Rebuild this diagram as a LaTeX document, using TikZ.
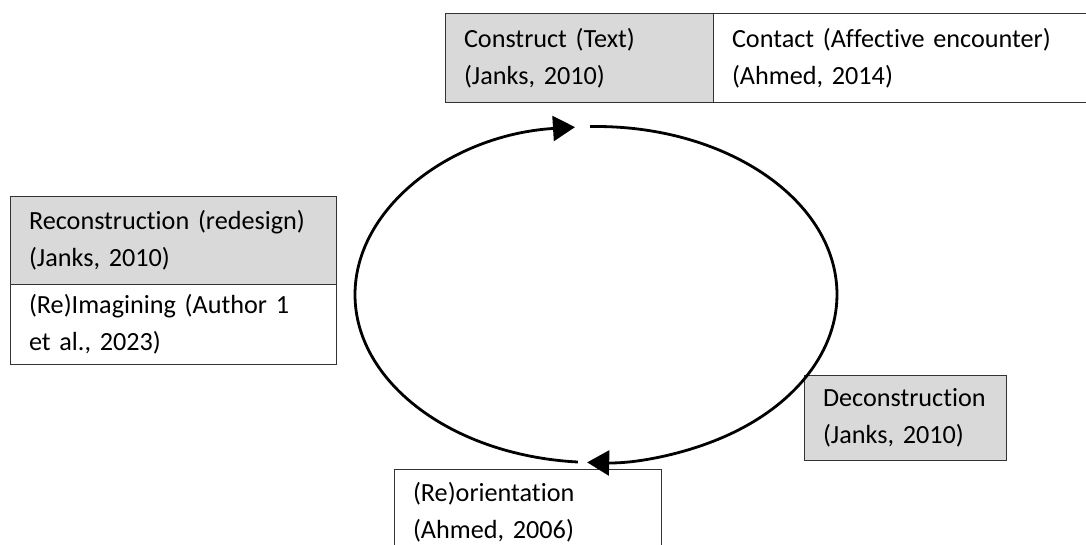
\documentclass[tikz,border=0pt]{standalone}
\usepackage{fontspec}
\setmainfont{Carlito}[Ligatures={NoCommon}]
\usetikzlibrary{arrows.meta,positioning}
\definecolor{shade}{HTML}{D9D9D9}

\begin{document}
\begin{tikzpicture}[
    x=1pt,y=1pt,
    box/.style={rectangle,draw=black!80,line width=1pt,anchor=north west,align=left,
      inner xsep=18.5pt,inner ysep=0pt,font=\fontsize{26.2}{37.2}\selectfont},
    cyc/.style={line width=2.8pt,-{Triangle[length=22pt,width=25pt]}}
]
\clip (0,0) rectangle (1086,545);
% boxes
\node[box,fill=shade,minimum width=268,minimum height=89,text width=231] (construct) at (445,532) {Construct (Text)\\(Janks, 2010)};
\node[box,fill=white,minimum width=380,minimum height=89,text width=343] (contact) at (713,532) {Contact (Affective encounter)\\(Ahmed, 2014)};
\node[box,fill=shade,minimum width=326,minimum height=88,text width=289] (recon) at (10,349) {Reconstruction (redesign)\\(Janks, 2010)};
\node[box,fill=white,minimum width=326,minimum height=80,text width=289] (imagine) at (10,261) {(Re)Imagining (Author 1\\et al., 2023)};
\node[box,fill=shade,minimum width=202,minimum height=85,text width=165] (decon) at (804,170) {Deconstruction\\(Janks, 2010)};
\node[box,fill=white,minimum width=267,minimum height=86,text width=230] (reorient) at (394,76) {(Re)orientation\\(Ahmed, 2006)};

% cycle
\coordinate (mid) at (596,250.5);
\draw[cyc] (mid) ++(265.7:241 and 168) arc[start angle=265.7,end angle=95,x radius=241,y radius=168];
\draw[cyc] (mid) ++(91.4:241 and 168) arc[start angle=91.4,end angle=-92.1,x radius=241,y radius=168];
\end{tikzpicture}
\end{document}
